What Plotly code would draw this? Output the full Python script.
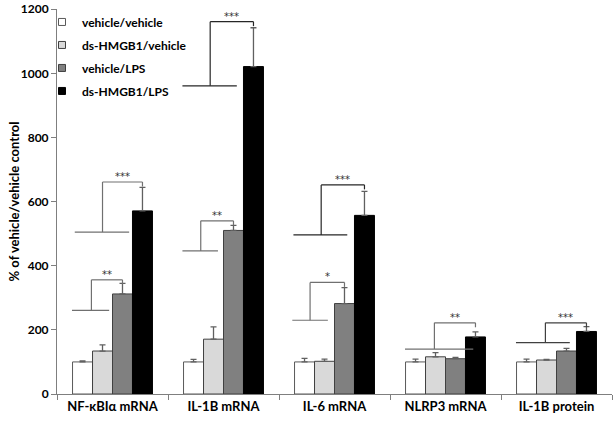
import plotly.graph_objects as go

categories = ["NF-κBIα mRNA", "IL-1B mRNA", "IL-6 mRNA", "NLRP3 mRNA", "IL-1B protein"]
series_names = ["vehicle/vehicle", "ds-HMGB1/vehicle", "vehicle/LPS", "ds-HMGB1/LPS"]

veh_veh = [100, 100, 100, 100, 100]
hmgb_veh = [134, 171, 102, 116, 106]
veh_lps = [312, 510, 282, 110, 134]
hmgb_lps = [571, 1021, 557, 178, 195]

err_veh_veh = [3, 8, 11, 9, 9]
err_hmgb_veh = [19, 38, 7, 13, 2]
err_veh_lps = [33, 16, 50, 4, 8]
err_hmgb_lps = [73, 121, 75, 16, 15]

y_ticks = [0, 200, 400, 600, 800, 1000, 1200]
y_title = "% of vehicle/vehicle control"

# significance brackets: category index, left/right of base line, riser, end (category offsets),
# base level, top level, label, colour
brackets = [
    (0, -0.365, -0.03, -0.19, 0.09, 261, 356, "**", "#707070"),
    (0, -0.34, 0.15, -0.09, 0.27, 505, 661, "***", "#707070"),
    (1, -0.37, -0.05, -0.205, 0.09, 446, 540, "**", "#707070"),
    (1, -0.37, 0.12, -0.12, 0.27, 961, 1161, "***", "#262626"),
    (2, -0.38, -0.06, -0.22, 0.09, 230, 348, "*", "#707070"),
    (2, -0.37, 0.115, -0.12, 0.27, 496, 652, "***", "#262626"),
    (3, -0.365, 0.25, -0.10, 0.27, 140, 222, "**", "#707070"),
    (4, -0.365, 0.12, -0.10, 0.27, 160, 222, "***", "#404040"),
]

values = [veh_veh, hmgb_veh, veh_lps, hmgb_lps]
errors = [err_veh_veh, err_hmgb_veh, err_veh_lps, err_hmgb_lps]
fills = ["#ffffff", "#d9d9d9", "#808080", "#000000"]
outlines = ["#595959", "#404040", "#404040", "#000000"]

FONT = "Lato"
fig = go.Figure()
for name, vals, errs, fc, oc in zip(series_names, values, errors, fills, outlines):
    fig.add_trace(go.Bar(
        x=categories, y=vals, name=name, showlegend=False,
        marker=dict(color=fc, line=dict(color=oc, width=1)),
        error_y=dict(type="data", array=errs, arrayminus=[0] * len(errs), symmetric=False,
                     color="#606060", thickness=1.3, width=3),
    ))
for i, (name, fc, oc) in enumerate(zip(series_names, fills, outlines)):
    fig.add_trace(go.Scatter(
        x=[None], y=[None], mode="markers", name=name, legendgroup=name,
        marker=dict(symbol="square", size=7, color=fc, line=dict(color=oc, width=1)),
    ))

shapes = []
annotations = []
for ci, xl, xr, xm, xe, yl, yt, lab, col in brackets:
    ln = dict(color=col, width=1.2)
    shapes.append(dict(type="line", xref="x", yref="y", x0=ci + xl, x1=ci + xr, y0=yl, y1=yl, line=ln))
    shapes.append(dict(type="line", xref="x", yref="y", x0=ci + xm, x1=ci + xm, y0=yl, y1=yt, line=ln))
    shapes.append(dict(type="line", xref="x", yref="y", x0=ci + xm, x1=ci + xe, y0=yt, y1=yt, line=ln))
    shapes.append(dict(type="line", xref="x", yref="y", x0=ci + xe, x1=ci + xe, y0=yt, y1=yt - 14, line=ln))
    annotations.append(dict(x=ci + (xm + xe) / 2, y=yt, xref="x", yref="y", text=lab,
                            showarrow=False, yanchor="bottom", yshift=-2,
                            font=dict(family="DejaVu Sans", size=10, color="#333333")))

annotations.append(dict(x=-0.0775, y=0.5, xref="paper", yref="paper", text=y_title, textangle=-90,
                        showarrow=False, xanchor="center", yanchor="middle",
                        font=dict(family=FONT, size=13, weight="bold", color="#000000")))

fig.update_layout(
    width=613, height=423,
    margin=dict(l=57, r=1, t=6, b=29),
    paper_bgcolor="white", plot_bgcolor="white",
    barmode="group", bargap=0.28, bargroupgap=0,
    font=dict(family=FONT, color="#000000"),
    shapes=shapes, annotations=annotations,
    legend=dict(x=-0.027, y=1.004, xanchor="left", yanchor="top", itemwidth=30,
                tracegroupgap=4, bgcolor="rgba(0,0,0,0)",
                font=dict(family=FONT, size=12, weight="bold")),
    showlegend=True,
)
fig.update_xaxes(
    showline=True, linecolor="#7f7f7f", linewidth=1,
    ticks="outside", tickson="boundaries", ticklen=5, tickcolor="#7f7f7f",
    tickfont=dict(family=FONT, size=13, weight="bold"), showgrid=False,
)
fig.update_yaxes(
    range=[0, 1200.5], tickvals=y_ticks, showline=True, linecolor="#7f7f7f", linewidth=1,
    ticks="outside", ticklen=5, tickcolor="#7f7f7f", showgrid=False, zeroline=False,
    ticklabeloverflow="allow",
    tickfont=dict(family=FONT, size=12, weight="bold"),
)
fig.write_html("out.html", config={"displayModeBar": False},
               post_script="document.body.style.margin='0';document.body.style.overflow='hidden';")
